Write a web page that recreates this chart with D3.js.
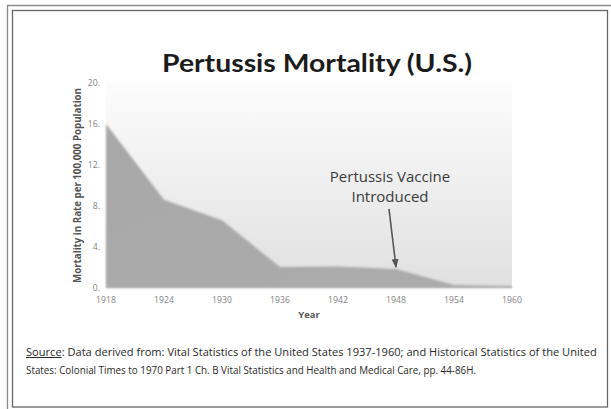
<!DOCTYPE html>
<html>
<head>
<meta charset="utf-8">
<script src="https://cdn.jsdelivr.net/npm/d3@7"></script>
<style>
  body { margin: 0; background: #fff; }
  svg { display: block; }
</style>
</head>
<body>
<svg width="611" height="409"></svg>
<script>
// data
var years = [1918, 1924, 1930, 1936, 1942, 1948, 1954, 1960];
var mortality = [16.0, 8.6, 6.6, 2.05, 2.1, 1.85, 0.3, 0.2];
var yTicks = [0, 4, 8, 12, 16, 20];
var xTicks = [1918, 1924, 1930, 1936, 1942, 1948, 1954, 1960];
var vaccineYear = 1948;

var svg = d3.select("svg");
var W = 611, H = 409;

// double frame
svg.append("path")
    .attr("d", "M7.5,409 V5.5 H611")
    .attr("fill", "none").attr("stroke", "#8a8a8a").attr("stroke-width", 1.3);
svg.append("rect")
    .attr("x", 12.5).attr("y", 10.5).attr("width", 595).attr("height", 396.5)
    .attr("fill", "none").attr("stroke", "#666").attr("stroke-width", 1.3);

var margin = { left: 106, right: 99, top: 83, bottom: 121 };
var x = d3.scaleLinear().domain([1918, 1960]).range([margin.left, W - margin.right]);
var y = d3.scaleLinear().domain([0, 20]).range([H - margin.bottom, margin.top]);

var defs = svg.append("defs");
var bg = defs.append("linearGradient").attr("id", "bg").attr("x1", 0).attr("y1", 0).attr("x2", 0).attr("y2", 1);
bg.append("stop").attr("offset", "0%").attr("stop-color", "#fcfcfc");
bg.append("stop").attr("offset", "100%").attr("stop-color", "#e0e0e0");
var fillG = defs.append("linearGradient").attr("id", "fillG").attr("x1", 0).attr("y1", 0).attr("x2", 1).attr("y2", 1);
fillG.append("stop").attr("offset", "0%").attr("stop-color", "#a8a8a8");
fillG.append("stop").attr("offset", "100%").attr("stop-color", "#acacac");
defs.append("filter").attr("id", "soft")
    .append("feGaussianBlur").attr("stdDeviation", 1);
defs.append("marker")
    .attr("id", "arrow").attr("viewBox", "0 0 10 10")
    .attr("refX", 9).attr("refY", 5)
    .attr("markerWidth", 5.5).attr("markerHeight", 5.5)
    .attr("orient", "auto")
  .append("path").attr("d", "M0,1 L10,5 L0,9 Z").attr("fill", "#555");

// plot background
svg.append("rect")
    .attr("x", x(1918)).attr("y", y(20))
    .attr("width", x(1960) - x(1918)).attr("height", y(0) - y(20))
    .attr("fill", "url(#bg)");

var data = years.map((d, i) => ({ year: d, value: mortality[i] }));
var area = d3.area()
    .x(d => x(d.year))
    .y0(y(0))
    .y1(d => y(d.value));

svg.append("path")
    .datum(data)
    .attr("d", area)
    .attr("fill", "url(#fillG)")
    .attr("filter", "url(#soft)");

// title
svg.append("text")
    .attr("x", 317).attr("y", 72)
    .attr("text-anchor", "middle")
    .attr("font-family", "Lato, 'Open Sans', sans-serif")
    .attr("font-weight", "bold")
    .attr("font-size", 25)
    .attr("fill", "#1b1b1b")
    .attr("textLength", 310)
    .attr("lengthAdjust", "spacingAndGlyphs")
    .text("Pertussis Mortality (U.S.)");

// y ticks
svg.append("g").selectAll("text")
    .data(yTicks).enter().append("text")
    .attr("x", 100).attr("y", d => y(d))
    .attr("dy", "0.35em")
    .attr("text-anchor", "end")
    .attr("font-family", "'Open Sans', sans-serif")
    .attr("font-size", 8.7)
    .attr("fill", "#858585")
    .text(d => d + ".");

// x ticks
svg.append("g").selectAll("text")
    .data(xTicks).enter().append("text")
    .attr("x", d => x(d)).attr("y", 303)
    .attr("text-anchor", "middle")
    .attr("font-family", "'Open Sans', sans-serif")
    .attr("font-size", 8.7)
    .attr("fill", "#858585")
    .text(d => d);

// axis titles
svg.append("text")
    .attr("transform", "translate(81," + ((y(0) + y(20)) / 2) + ") rotate(-90)")
    .attr("text-anchor", "middle")
    .attr("font-family", "'Open Sans', sans-serif")
    .attr("font-weight", "bold")
    .attr("font-size", 10)
    .attr("fill", "#555")
    .attr("textLength", 195)
    .attr("lengthAdjust", "spacingAndGlyphs")
    .text("Mortality in Rate per 100,000 Population");

svg.append("text")
    .attr("x", 309).attr("y", 318)
    .attr("text-anchor", "middle")
    .attr("font-family", "'Open Sans', sans-serif")
    .attr("font-weight", "bold")
    .attr("font-size", 9.5)
    .attr("fill", "#555")
    .text("Year");

// annotation
var ann = svg.append("text")
    .attr("text-anchor", "middle")
    .attr("font-family", "'Open Sans', sans-serif")
    .attr("font-size", 15)
    .attr("fill", "#3a3a3a");
ann.append("tspan").attr("x", 390).attr("y", 182).text("Pertussis Vaccine");
ann.append("tspan").attr("x", 390).attr("y", 202).text("Introduced");

svg.append("line")
    .attr("x1", 389).attr("y1", 209)
    .attr("x2", x(vaccineYear)).attr("y2", y(1.85) - 2)
    .attr("stroke", "#555").attr("stroke-width", 1.6)
    .attr("marker-end", "url(#arrow)");

// source note: squeeze horizontally so the lines span the box like the original
var src = svg.append("g")
    .attr("font-family", "'Open Sans', sans-serif")
    .attr("font-size", 10.5)
    .attr("fill", "#2a2a2a");
var l1 = src.append("text").attr("x", 0).attr("y", 0);
l1.append("tspan").attr("text-decoration", "underline").text("Source");
l1.append("tspan").text(": Data derived from: Vital Statistics of the United States 1937-1960; and Historical Statistics of the United");
var l2 = src.append("text").attr("x", 0).attr("y", 18)
    .text("States: Colonial Times to 1970 Part 1 Ch. B Vital Statistics and Health and Medical Care, pp. 44-86H.");
var sx = 571 / l1.node().getComputedTextLength();
src.attr("transform", "translate(26,356) scale(" + sx + ",1)");
l2.attr("textLength", 450 / sx).attr("lengthAdjust", "spacingAndGlyphs");
</script>
</body>
</html>
